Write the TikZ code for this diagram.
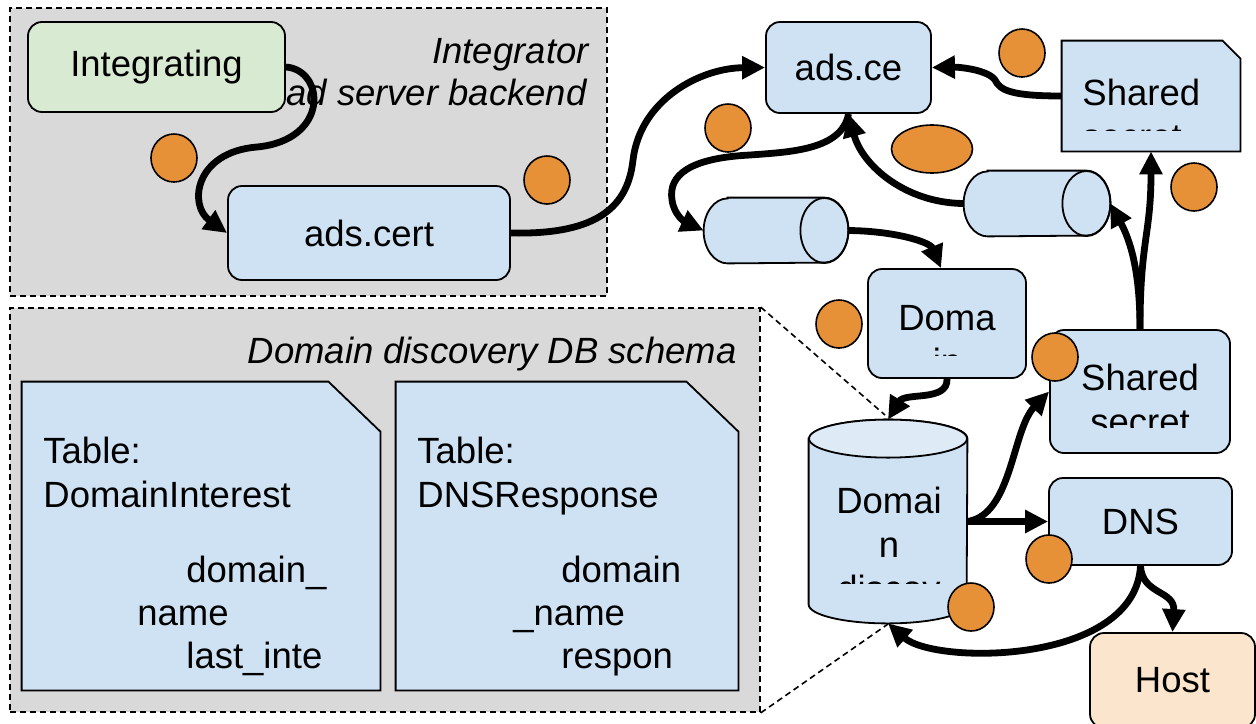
\documentclass[tikz,border=0pt]{standalone}
\usepackage{fontspec}
\setmainfont{Liberation Sans}
\usetikzlibrary{arrows.meta,shapes.geometric}
\definecolor{grp}{HTML}{D9D9D9}
\definecolor{nblue}{HTML}{CFE2F3}
\definecolor{ngreen}{HTML}{D9EAD3}
\definecolor{norange}{HTML}{E69138}
\definecolor{npeach}{HTML}{FCE5CD}
\definecolor{ntop}{HTML}{DEEBF7}
\newcommand\mfs{\fontsize{18.25}{22}\selectfont}
\begin{document}
\begin{tikzpicture}[x=0.5pt,y=-0.5pt,
 grpbox/.style={draw=black, fill=grp, line width=0.8pt, dash pattern=on 3pt off 2pt, inner sep=0pt},
 box/.style={draw=black, line width=0.9pt, rounded corners=7pt, fill=nblue, font=\mfs, inner sep=0pt},
 frame/.style={inner sep=0pt, draw=none},
 shapeline/.style={draw=black, line width=0.9pt, fill=nblue},
 txt/.style={font=\mfs, inner sep=0pt},
 itxt/.style={font=\mfs\itshape, inner sep=0pt},
 flow/.style={line width=3.4pt, -{Triangle[length=11.5pt,width=11pt]}},
 dot/.style={ellipse, draw=black, line width=0.8pt, fill=norange, minimum width=23pt, minimum height=24pt, inner sep=0pt},
 callout/.style={line width=0.8pt, dash pattern=on 3pt off 2pt},
]
\clip (0,0) rectangle (1256,723);
\fill[white] (0,0) rectangle (1256,723);

% group boxes
\node[grpbox, minimum width=298.5pt, minimum height=144pt] (g1) at (308.5,152) {};
\node[grpbox, minimum width=375pt, minimum height=202pt] (g2) at (385,510) {};

% labels
\node[itxt, anchor=base east] (lbl1) at (589,63) {Integrator};
\node[itxt, anchor=base east] (lbl2) at (587,105) {ad server backend};
\node[itxt, anchor=base east] (lbl3) at (737,363) {Domain discovery DB schema};

% callout lines
\coordinate (c1) at (885,415);
\coordinate (c2) at (888,624);
\draw[callout] (g2.north east) -- (c1);
\draw[callout] (g2.south east) -- (c2);

% tables
\node[frame, minimum width=179pt, minimum height=154pt] (t1) at (201,536) {};
\draw[shapeline] (t1.south west) -- (t1.north west) -- ([xshift=-26pt]t1.north east) -- ([yshift=-25pt]t1.north east) -- (t1.south east) -- cycle;
\node[frame, minimum width=171pt, minimum height=154pt] (t2) at (567,536) {};
\draw[shapeline] (t2.south west) -- (t2.north west) -- ([xshift=-26pt]t2.north east) -- ([yshift=-25pt]t2.north east) -- (t2.south east) -- cycle;
\node[txt, anchor=base west] (t1a) at (43,463) {Table:};
\node[txt, anchor=base west] (t1b) at (43,507) {DomainInterest};
\node[txt, anchor=base west] (t1c) at (186,582) {domain\_};
\node[txt, anchor=base west] (t1d) at (137,625) {name};
\node[txt, anchor=base west] (t1e) at (186,668) {last\_inte};
\node[txt, anchor=base west] (t2a) at (417,463) {Table:};
\node[txt, anchor=base west] (t2b) at (417,507) {DNSResponse};
\node[txt, anchor=base west] (t2c) at (561,582) {domain};
\node[txt, anchor=base west] (t2d) at (513,625) {\_name};
\node[txt, anchor=base west] (t2e) at (561,668) {respon};

% boxes
\node[box, fill=ngreen, minimum width=128.5pt, minimum height=45pt] (integ) at (156.5,67) {Integrating};
\node[box, minimum width=141pt, minimum height=47pt] (adscert) at (369,233) {ads.cert};
\node[box, minimum width=82.5pt, minimum height=45.5pt] (adsce) at (848.5,67.5) {ads.ce};
\node[box, minimum width=91.5pt, minimum height=43.5pt] (dns) at (1140.5,521.5) {DNS};
\node[box, fill=npeach, minimum width=82.5pt, minimum height=47.5pt] (host) at (1172.5,680.5) {Host};

% Doma box
\node[box, minimum width=79pt, minimum height=54.5pt] (doma) at (947,323.5) {};
\begin{scope}
\clip (868,269) rectangle (1026,355);
\node[txt, anchor=base] (domaA) at (947,330) {Doma};
\node[txt, anchor=base] (domaB) at (947,374) {in};
\end{scope}

% Shared secret box 2
\node[box, minimum width=90pt, minimum height=61.5pt] (sh2) at (1140,391.5) {};
\begin{scope}
\clip (1050,330) rectangle (1230,427);
\node[txt, anchor=base] (sh2A) at (1140,390) {Shared};
\node[txt, anchor=base] (sh2B) at (1140,434) {secret};
\end{scope}

% Shared secret document
\node[frame, minimum width=89pt, minimum height=55pt] (ss1) at (1151,96) {};
\draw[shapeline] (ss1.south west) -- (ss1.north west) -- ([xshift=-9pt]ss1.north east) -- ([yshift=-9pt]ss1.north east) -- (ss1.south east) -- cycle;
\begin{scope}
\clip (1062,41) rectangle (1240,130);
\node[txt, anchor=base west] (ss1A) at (1082,105) {Shared};
\node[txt, anchor=base west] (ss1B) at (1082,149) {secret};
\end{scope}

% horizontal cylinders
\node[frame, minimum width=72pt, minimum height=32.5pt] (cyl1) at (776,230.5) {};
\draw[shapeline] ([xshift=12pt]cyl1.north west) -- ([xshift=-12pt]cyl1.north east) arc[start angle=90,end angle=-90,x radius=12pt,y radius=16.25pt] -- ([xshift=12pt]cyl1.south west) arc[start angle=270,end angle=90,x radius=12pt,y radius=16.25pt] -- cycle;
\draw[line width=0.9pt] ([xshift=-12pt]cyl1.east) ellipse[x radius=12pt,y radius=16.25pt];
\node[frame, minimum width=73pt, minimum height=32.5pt] (cyl2) at (1037,203.5) {};
\draw[shapeline] ([xshift=12pt]cyl2.north west) -- ([xshift=-12pt]cyl2.north east) arc[start angle=90,end angle=-90,x radius=12pt,y radius=16.25pt] -- ([xshift=12pt]cyl2.south west) arc[start angle=270,end angle=90,x radius=12pt,y radius=16.25pt] -- cycle;
\draw[line width=0.9pt] ([xshift=-12pt]cyl2.east) ellipse[x radius=12pt,y radius=16.25pt];

% vertical DB cylinder
\node[frame, minimum width=79pt, minimum height=101.5pt] (db) at (888,521.5) {};
\draw[shapeline] ([yshift=-9.5pt]db.north west) -- ([yshift=9.5pt]db.south west) arc[start angle=180,end angle=360,x radius=39.5pt,y radius=9.5pt] -- ([yshift=-9.5pt]db.north east) arc[start angle=0,end angle=180,x radius=39.5pt,y radius=9.5pt] -- cycle;
\draw[line width=0.9pt, fill=ntop] ([yshift=-9.5pt]db.north) ellipse[x radius=39.5pt,y radius=9.5pt];
\begin{scope}
\clip (809,420) rectangle (967,583);
\node[txt, anchor=base] (dbA) at (889,513) {Domai};
\node[txt, anchor=base] (dbB) at (889,557) {n};
\node[txt, anchor=base] (dbC) at (889,601) {discov};
\end{scope}

% connectors
\draw[flow] (integ.east) .. controls (325,70) and (330,140) .. (257,147) .. controls (195,152) and (188,205) .. (adscert.west);
\draw[flow] (adscert.east) .. controls (600,235) and (628,205) .. (633,160) .. controls (640,100) and (700,68) .. (adsce.west);
\draw[flow] (ss1.west) .. controls (1010,96) and (1000,90) .. (995,80) .. controls (988,70) and (960,67) .. (adsce.east);
\draw[flow] (adsce.south) .. controls (842,150) and (790,152) .. (750,155) .. controls (690,158) and (668,175) .. (672,200) .. controls (674,215) and (685,222) .. (cyl1.west);
\draw[flow] (cyl1.east) .. controls (895,231) and (930,242) .. ([xshift=-3pt]doma.north);
\draw[flow] (cyl2.west) .. controls (905,203) and (862,165) .. (adsce.south);
\draw[flow] (sh2.north) .. controls (1140,270) and (1130,240) .. (cyl2.east);
\draw[flow] (sh2.north) .. controls (1140,240) and (1151,235) .. (ss1.south);
\draw[flow] (doma.south) .. controls (948,402) and (905,392) .. (db.north);
\draw[flow] (db.east) .. controls (1012,515) and (1012,430) .. (sh2.west);
\draw[flow] (db.east) -- (dns.west);
\draw[flow] (dns.south) .. controls (1142,595) and (1175,590) .. (host.north);
\draw[flow] (dns.south) .. controls (1135,665) and (935,665) .. (db.south);

% orange markers
\node[dot] (d1) at (174,158) {};
\node[dot] (d2) at (547,180) {};
\node[dot] (d3) at (728,128) {};
\node[dot] (d4) at (1022,53) {};
\node[dot, minimum width=40.5pt] (d5) at (932,149) {};
\node[dot] (d6) at (1194,187) {};
\node[dot] (d7) at (839,324) {};
\node[dot] (d8) at (1055,357) {};
\node[dot] (d9) at (1049,559) {};
\node[dot] (d10) at (971,607) {};
\end{tikzpicture}
\end{document}
